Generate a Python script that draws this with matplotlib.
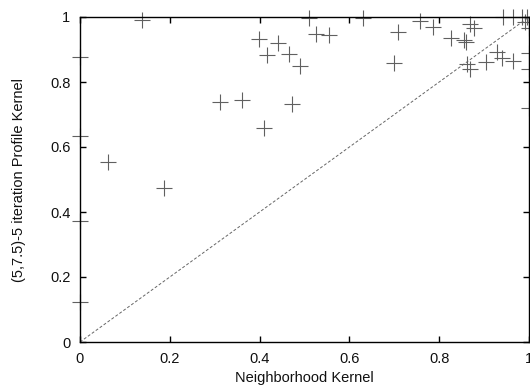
import matplotlib.pyplot as plt
import numpy as np

# values
neighborhood = [0.0, 0.0, 0.0, 0.0, 0.137, 0.063, 0.186,
                0.51, 0.631, 0.399, 0.44, 0.416, 0.465, 0.49, 0.526, 0.555,
                0.312, 0.361, 0.473, 0.41,
                0.709, 0.70, 0.757, 0.787, 0.869, 0.878, 0.826, 0.856, 0.86,
                0.863, 0.869, 0.904, 0.929, 0.939, 0.965,
                0.943, 0.964, 0.984, 0.995, 0.99,
                1.0, 1.0, 1.0, 1.0]
profile = [0.878, 0.634, 0.372, 0.123, 0.991, 0.553, 0.475,
           0.998, 0.998, 0.931, 0.919, 0.883, 0.885, 0.849, 0.947, 0.945,
           0.739, 0.745, 0.732, 0.659,
           0.955, 0.859, 0.989, 0.97, 0.98, 0.965, 0.936, 0.93, 0.922,
           0.854, 0.839, 0.862, 0.893, 0.875, 0.865,
           1.0, 1.0, 1.0, 1.0, 0.985,
           0.965, 0.889, 0.84, 0.72]

ticks = [0, 0.2, 0.4, 0.6, 0.8, 1]
tick_labels = ['0', '0.2', '0.4', '0.6', '0.8', '1']

plt.rcParams['font.family'] = ['Liberation Sans', 'DejaVu Sans']

fig = plt.figure(figsize=(5.3, 3.89), dpi=100)
ax = fig.add_axes([80 / 530, 47 / 389, 449 / 530, 325 / 389])

ax.plot([0, 1], [0, 1], linestyle=(0, (3, 2)), color='#666666', lw=0.7)
ax.plot(neighborhood, profile, linestyle='none', marker='+', markersize=12,
        markeredgewidth=0.8, color='#606060', clip_on=False)

ax.set_xlim(0, 1)
ax.set_ylim(0, 1)
ax.set_xticks(ticks)
ax.set_xticklabels(tick_labels)
ax.set_yticks(ticks)
ax.set_yticklabels(tick_labels)
ax.tick_params(direction='in', length=4, width=1, top=True, right=True,
               labelsize=10.5, pad=7, labelcolor='#111111')
for s in ax.spines.values():
    s.set_linewidth(1)

ax.set_xlabel('Neighborhood Kernel', fontsize=10.5, labelpad=4, color='#111111')
ax.set_ylabel('(5,7.5)-5 iteration Profile Kernel', fontsize=10.5,
              labelpad=17, color='#111111')

fig.savefig('out.png', dpi=100)
